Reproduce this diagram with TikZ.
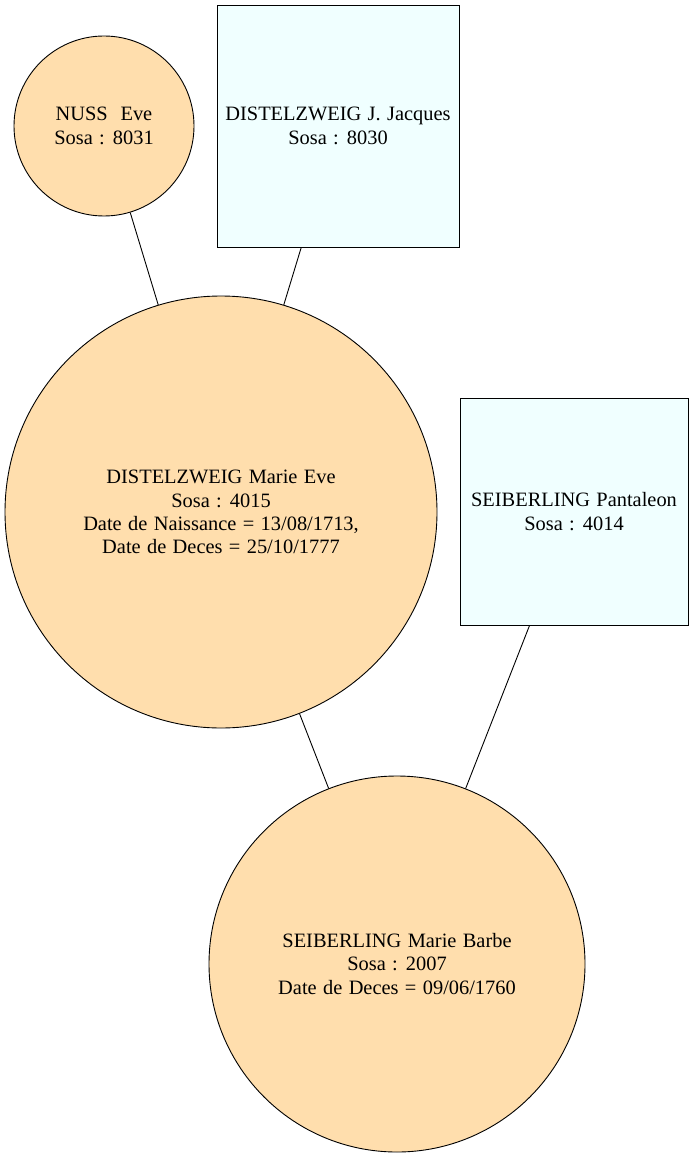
\documentclass[tikz,border=0pt]{standalone}
\usepackage{fontspec}
\setmainfont{Liberation Serif}[WordSpace={1.25}]
\definecolor{pers}{HTML}{FFDEAD}
\definecolor{boxc}{HTML}{F0FFFF}
\begin{document}
\begin{tikzpicture}[x=1pt,y=-1pt,
  txt/.style={align=center,font=\fontsize{20.4}{23.3}\selectfont,inner sep=0pt},
  woman/.style={txt,circle,draw=black,line width=0.9pt,fill=pers},
  man/.style={txt,rectangle,draw=black,line width=0.9pt,fill=boxc},
  link/.style={draw=black,line width=0.9pt}]
\useasboundingbox (0,0) rectangle (694,1158);
\node[woman,minimum size=180pt] (nuss) at (104,126) {NUSS\ \ Eve\\Sosa : 8031\ };
\node[man,minimum width=242pt,minimum height=242pt] (jacques) at (338,126) {DISTELZWEIG J. Jacques\\Sosa : 8030\ };
\node[woman,minimum size=432pt] (marieeve) at (221,512) {DISTELZWEIG Marie Eve\\Sosa : 4015\ \\Date de Naissance = 13/08/1713,\\Date de Deces = 25/10/1777};
\node[man,minimum width=228pt,minimum height=227pt] (pantaleon) at (574,511.5) {SEIBERLING Pantaleon\\Sosa : 4014};
\node[woman,minimum size=376pt] (barbe) at (397,964) {SEIBERLING Marie Barbe\\Sosa : 2007\\Date de Deces = 09/06/1760};
\draw[link] (nuss) -- (marieeve);
\draw[link] (jacques) -- (marieeve);
\draw[link] (marieeve) -- (barbe);
\draw[link] (pantaleon) -- (barbe);
\end{tikzpicture}
\end{document}
